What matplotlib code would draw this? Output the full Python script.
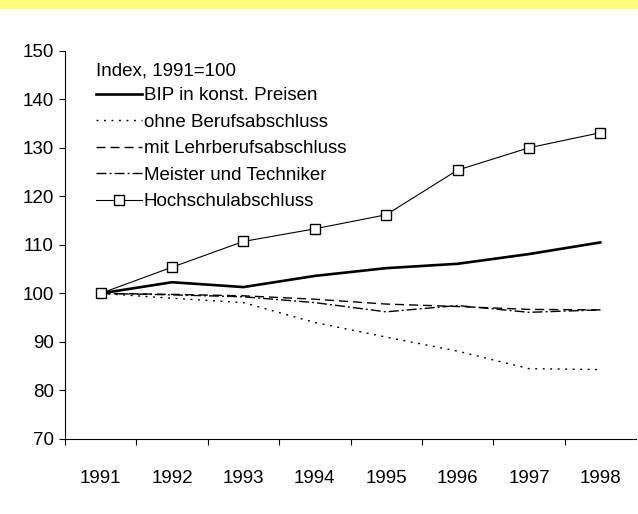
import matplotlib
matplotlib.use("Agg")
import matplotlib.pyplot as plt
from matplotlib.patches import Rectangle

plt.rcParams['font.family'] = ['Liberation Sans', 'DejaVu Sans']
plt.rcParams['lines.scale_dashes'] = False

years = ['1991', '1992', '1993', '1994', '1995', '1996', '1997', '1998']
bip = [100, 102.3, 101.3, 103.6, 105.2, 106.1, 108.1, 110.5]
ohne = [100, 99.0, 98.1, 94.0, 91.0, 88.1, 84.5, 84.3]
mit = [100, 99.8, 99.5, 98.8, 97.8, 97.3, 96.7, 96.6]
meister = [100, 99.7, 99.3, 98.1, 96.2, 97.5, 96.1, 96.6]
hoch = [100, 105.4, 110.7, 113.3, 116.2, 125.4, 130.0, 133.1]

W, H = 638, 514
fig = plt.figure(figsize=(W / 100, H / 100), dpi=100)
fig.patches.append(Rectangle((0, 1 - 9 / H), 1, 9 / H, transform=fig.transFigure,
                             facecolor='#FFFF80', edgecolor='none', zorder=0))
ax = fig.add_axes([65 / W, 1 - 439 / H, (636 - 65) / W, (439 - 50.7) / H])

x = list(range(len(years)))
ax.plot(x, bip, color='black', lw=1.9, label='BIP in konst. Preisen')
ax.plot(x, ohne, color='black', lw=1.0, linestyle=(0, (1.4, 4.0)), label='ohne Berufsabschluss')
ax.plot(x, mit, color='black', lw=1.0, linestyle=(0, (6.5, 3.6)), label='mit Lehrberufsabschluss')
ax.plot(x, meister, color='black', lw=1.0, linestyle=(0, (7.2, 2.2, 1.4, 2.2)), label='Meister und Techniker')
ax.plot(x, hoch, color='black', lw=0.8, marker='s', markersize=7.6, markerfacecolor='white',
        markeredgecolor='black', markeredgewidth=1.0, label='Hochschulabschluss')

ax.set_xlim(-0.5, len(years) - 0.5)
ax.set_ylim(70, 150)
ax.set_yticks(range(70, 151, 10))
ax.set_xticks(x)
ax.set_xticklabels(years)
ax.set_xticks([i - 0.5 for i in x], minor=True)
ax.tick_params(axis='x', which='major', length=0, pad=22.5, labelsize=13.5)
ax.tick_params(axis='x', which='minor', length=4.5, width=0.8, direction='out')
ax.tick_params(axis='y', length=4.5, width=0.8, pad=3.5, labelsize=13.5)
for s in ['top', 'right']:
    ax.spines[s].set_visible(False)
for s in ['left', 'bottom']:
    ax.spines[s].set_linewidth(0.8)
    ax.spines[s].set_color('black')

leg = ax.legend(title='Index, 1991=100', loc='upper left', bbox_to_anchor=(96 / W, 1 - 63 / H),
                bbox_transform=fig.transFigure, frameon=False, fontsize=13.5, title_fontsize=13.5,
                handlelength=2.45, handletextpad=0.1, labelspacing=0.5, borderpad=0,
                borderaxespad=0, alignment='left')
leg._legend_box.sep = 5

fig.savefig('out.png', dpi=100)
